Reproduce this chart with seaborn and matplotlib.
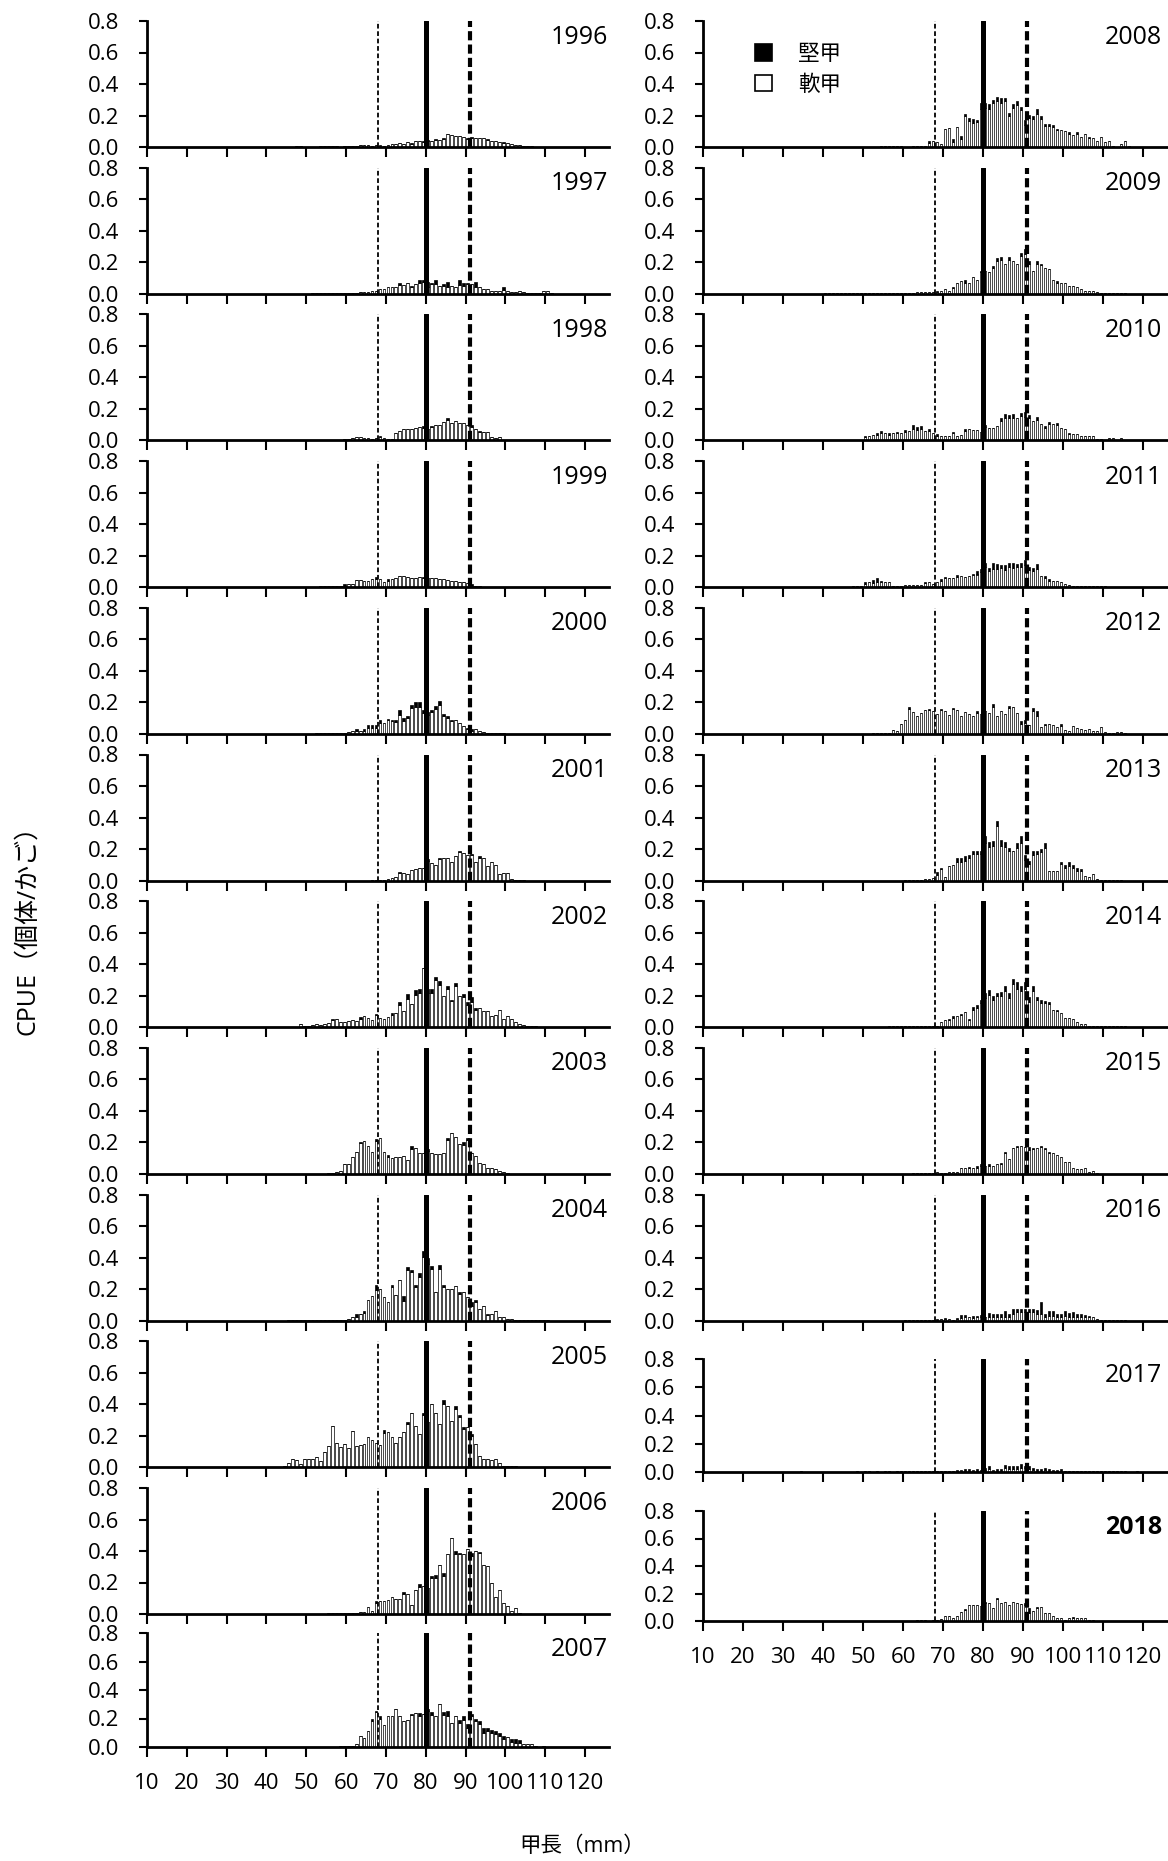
import numpy as np
import pandas as pd
import matplotlib
matplotlib.use("Agg")
import matplotlib.pyplot as plt
import seaborn as sns
from matplotlib.patches import Patch

sns.set_theme(style="ticks", rc={"axes.edgecolor": "black", "xtick.color": "black",
                                 "ytick.color": "black", "text.color": "black"})
plt.rcParams['font.family'] = ['Open Sans', 'Noto Sans CJK JP', 'DejaVu Sans']

# ---------------- data (CPUE per 1-mm carapace-length class) ----------------
# total bar height (soft + hard) starting at start_YYYY mm; hard-shell part as {mm: value}
start_1996 = 45
total_1996 = [.003,.003,.005,.005,.003,.002,.002,.003,.004,.005,
              .005,.005,.004,.003,.005,.006,.008,.008,.010,.010,
              .010,.008,.012,.010,.008,.015,.020,.022,.025,.020,
              .030,.028,.040,.035,.040,.045,.040,.050,.045,.055,
              .080,.075,.070,.070,.065,.060,.065,.060,.058,.055,
              .050,.040,.035,.030,.030,.025,.020,.015,.010,.008,
              .008,.005]
hard_1996 = {68:.005,72:.005,76:.008,79:.01,80:.01,82:.008,84:.005,90:.008,91:.01,95:.005,99:.005}

start_1997 = 51
total_1997 = [.003,.003,.003,.003,.004,.004,.004,.005,.005,.005,
              .006,.006,.008,.010,.012,.017,.017,.030,.030,.045,
              .040,.045,.065,.055,.065,.050,.060,.090,.085,.075,
              .070,.090,.050,.060,.075,.050,.045,.085,.070,.070,
              .060,.075,.040,.030,.030,.020,.015,.020,.045,.020,
              .010,.010,.015,.010,.005,.005,.003,.003,.020,.015,
              .003]
hard_1997 = {73:.01,76:.01,78:.02,79:.01,80:.03,81:.01,82:.03,84:.01,85:.03,88:.03,89:.02,90:.01,92:.03,99:.02}

start_1998 = 50
total_1998 = [.003,.003,.003,.005,.005,.004,.005,.005,.005,.008,
              .010,.015,.020,.020,.015,.015,.010,.015,.030,.015,
              .010,.010,.050,.060,.070,.070,.075,.080,.085,.090,
              .070,.090,.095,.100,.115,.140,.110,.120,.110,.110,
              .100,.095,.070,.060,.055,.055,.020,.015,.020,.005]
hard_1998 = {68:.01,72:.005,79:.01,81:.008,85:.01,91:.01,93:.005}

start_1999 = 50
total_1999 = [.003,.003,.003,.004,.005,.005,.008,.010,.010,.020,
              .020,.020,.045,.045,.040,.040,.050,.065,.050,.035,
              .050,.050,.060,.070,.070,.065,.060,.060,.065,.065,
              .060,.060,.055,.050,.050,.045,.040,.040,.035,.030,
              .025,.020,.010,.005]
hard_1999 = {59:.01,67:.015,70:.01,79:.01,91:.01}

start_2000 = 52
total_2000 = [.003,.003,.004,.004,.005,.005,.005,.005,.010,.015,
              .030,.020,.030,.055,.055,.055,.090,.070,.095,.090,
              .090,.150,.100,.110,.185,.200,.200,.150,.140,.150,
              .175,.210,.125,.110,.090,.085,.070,.050,.040,.030,
              .030,.015,.010,.005,.004,.003,.003,.002]
hard_2000 = {62:.01,64:.01,65:.015,66:.02,67:.02,68:.02,70:.01,71:.01,72:.015,73:.03,74:.02,75:.01,
             76:.02,77:.03,78:.03,79:.02,80:.02,81:.01,82:.02,83:.03,84:.015,85:.01,86:.01,90:.01,91:.01}

start_2001 = 66
total_2001 = [.003,.005,.005,.003,.010,.015,.020,.055,.050,.040,
              .065,.070,.080,.080,.135,.110,.100,.140,.140,.140,
              .120,.155,.190,.175,.160,.170,.120,.155,.140,.095,
              .120,.100,.040,.045,.050,.010,.005,.003,.002]
hard_2001 = {73:.005,80:.01,83:.005,88:.01,91:.01,93:.01}

start_2002 = 48
total_2002 = [.020,.005,.008,.015,.020,.015,.020,.025,.055,.055,
              .035,.030,.040,.045,.040,.065,.070,.060,.045,.085,
              .060,.055,.065,.090,.090,.160,.100,.210,.150,.235,
              .240,.375,.245,.240,.320,.295,.200,.260,.175,.280,
              .200,.210,.160,.190,.120,.120,.100,.100,.070,.080,
              .110,.050,.070,.050,.035,.020,.015,.010,.008,.005,
              .003,.002,.002,.003]
hard_2002 = {56:.01,63:.01,67:.01,71:.01,73:.02,75:.03,77:.03,78:.02,80:.03,81:.02,82:.02,83:.03,
             85:.02,86:.01,87:.02,89:.02,90:.02,91:.03,92:.01}

start_2003 = 55
total_2003 = [.003,.005,.010,.020,.060,.065,.105,.140,.205,.210,
              .175,.140,.220,.230,.140,.120,.100,.105,.110,.115,
              .090,.175,.165,.130,.130,.155,.130,.125,.125,.130,
              .225,.260,.235,.190,.200,.225,.130,.115,.070,.060,
              .035,.035,.030,.020,.010,.005]
hard_2003 = {63:.01,67:.01,70:.01,76:.02,80:.01,85:.01,89:.015,90:.01}

start_2004 = 45
total_2004 = [.002,.002,.002,.003,.003,.003,.003,.003,.004,.004,
              .004,.005,.005,.005,.005,.010,.020,.045,.045,.060,
              .130,.155,.225,.200,.150,.120,.225,.165,.255,.155,
              .340,.320,.225,.300,.445,.400,.345,.180,.350,.225,
              .200,.200,.220,.180,.180,.150,.120,.130,.075,.095,
              .045,.045,.060,.020,.020,.010,.008,.005,.003,.002,
              .002,.002,.002,.002,.002,.002]
hard_2004 = {62:.02,64:.01,67:.03,71:.01,74:.03,75:.02,76:.01,77:.01,78:.02,79:.04,80:.04,81:.02,
             83:.02,84:.01,88:.01,91:.03,92:.01,95:.01}

start_2005 = 41
total_2005 = [.003,.005,.003,.010,.030,.055,.045,.020,.050,.050,
              .055,.065,.040,.100,.135,.260,.155,.130,.145,.120,
              .230,.135,.140,.150,.190,.175,.155,.140,.235,.225,
              .190,.155,.190,.225,.285,.345,.260,.210,.345,.285,
              .400,.345,.275,.425,.390,.295,.390,.330,.255,.255,
              .210,.145,.070,.050,.050,.045,.055,.030,.010,.010,
              .010,.008,.003]
hard_2005 = {69:.02,75:.01,79:.01,84:.02,87:.02,88:.01,89:.01,91:.01}

start_2006 = 53
total_2006 = [.003,.003,.005,.005,.008,.005,.008,.005,.008,.008,
              .010,.015,.045,.020,.080,.080,.080,.090,.105,.095,
              .095,.140,.130,.060,.155,.190,.180,.165,.240,.250,
              .310,.260,.380,.480,.400,.390,.380,.415,.390,.400,
              .395,.310,.305,.200,.105,.155,.070,.050,.020,.035,
              .005,.003]
hard_2006 = {67:.01,74:.01,78:.02,81:.01,82:.02,84:.02,87:.02,88:.01,91:.02,93:.01}

start_2007 = 58
total_2007 = [.010,.005,.010,.010,.020,.075,.065,.115,.195,.255,
              .220,.155,.220,.220,.265,.215,.180,.190,.235,.240,
              .240,.230,.270,.245,.220,.305,.245,.250,.170,.220,
              .190,.220,.160,.235,.200,.180,.130,.130,.120,.110,
              .100,.075,.070,.055,.055,.050,.020,.020,.020,.005,
              .003,.008]
hard_2007 = {66:.01,67:.01,68:.02,76:.01,78:.02,80:.02,81:.02,84:.02,85:.03,88:.02,89:.03,90:.03,
             91:.02,92:.02,93:.02,94:.03,95:.02,96:.02,97:.02,98:.02,99:.02,101:.02,102:.03,103:.02}

start_2008 = 54
total_2008 = [.005,.005,.005,.005,.005,.005,.003,.003,.005,.005,
              .005,.005,.035,.035,.030,.020,.115,.120,.050,.125,
              .070,.210,.185,.175,.170,.280,.280,.270,.300,.320,
              .310,.310,.215,.270,.295,.255,.170,.205,.200,.240,
              .200,.145,.145,.140,.115,.110,.100,.095,.075,.095,
              .065,.085,.065,.060,.040,.065,.030,.040,.005,.003,
              .020,.035,.005]
hard_2008 = {66:.01,72:.02,74:.02,75:.01,76:.02,77:.02,78:.01,79:.04,80:.03,81:.03,82:.02,83:.03,
             84:.03,85:.02,86:.02,87:.02,88:.03,89:.02,90:.03,91:.02,92:.02,93:.03,94:.02,95:.01,
             96:.01,97:.01,98:.01,101:.01,103:.01,106:.01}

start_2009 = 40
total_2009 = [.002,.002,.003,.003,.002,.003,.003,.002,.003,.003,
              .003,.003,.003,.003,.004,.004,.004,.005,.005,.005,
              .005,.006,.006,.008,.008,.010,.010,.010,.015,.020,
              .030,.020,.045,.065,.080,.090,.070,.105,.090,.145,
              .145,.140,.175,.225,.235,.190,.235,.210,.190,.260,
              .285,.210,.145,.210,.190,.165,.160,.090,.080,.070,
              .065,.050,.050,.040,.030,.020,.020,.015,.010,.005,
              .005,.005,.005,.005,.005,.005]
hard_2009 = {68:.005,72:.01,75:.02,79:.01,82:.01,83:.015,84:.02,86:.02,89:.02,90:.03,91:.02,93:.02,94:.01,98:.01}

start_2010 = 42
total_2010 = [.005,.005,.005,.005,.005,.005,.005,.003,.030,.030,
              .035,.045,.060,.045,.045,.045,.055,.050,.065,.060,
              .095,.085,.090,.060,.070,.045,.040,.025,.030,.030,
              .055,.030,.035,.070,.070,.065,.065,.055,.095,.080,
              .080,.090,.145,.165,.160,.170,.145,.175,.180,.160,
              .125,.150,.105,.090,.115,.105,.110,.080,.070,.050,
              .040,.040,.030,.030,.030,.030,.010,.010,.005,.015,
              .015,.005,.015]
hard_2010 = {50:.01,53:.01,54:.015,56:.01,58:.01,60:.01,62:.02,63:.02,64:.015,66:.01,68:.01,72:.01,
             75:.01,80:.01,84:.02,85:.02,86:.02,87:.03,89:.02,90:.03,91:.02,93:.02,95:.01,96:.01,
             98:.01,101:.01}

start_2011 = 45
total_2011 = [.003,.003,.005,.005,.010,.030,.030,.045,.060,.040,
              .035,.030,.010,.010,.010,.012,.012,.015,.015,.015,
              .035,.030,.020,.030,.050,.065,.060,.055,.075,.070,
              .065,.070,.085,.100,.115,.155,.120,.155,.145,.140,
              .140,.150,.150,.145,.155,.170,.130,.120,.145,.070,
              .070,.050,.040,.040,.030,.020,.015,.010,.010,.005,
              .005,.005,.005,.005,.005,.005]
hard_2011 = {50:.01,52:.02,53:.03,54:.01,65:.01,69:.01,70:.01,73:.01,77:.01,78:.02,79:.02,80:.03,
             81:.02,82:.04,83:.03,84:.02,85:.03,86:.02,87:.03,88:.02,89:.03,90:.03,91:.02,92:.02,
             93:.03,95:.01,96:.01}

start_2012 = 52
total_2012 = [.003,.003,.003,.003,.005,.025,.020,.065,.090,.170,
              .140,.115,.135,.150,.160,.145,.125,.160,.145,.120,
              .165,.150,.110,.140,.125,.115,.145,.125,.145,.135,
              .190,.115,.145,.125,.175,.170,.135,.080,.090,.055,
              .165,.145,.045,.065,.065,.055,.045,.060,.025,.020,
              .050,.040,.030,.025,.030,.020,.020,.045,.010,.005,
              .003,.010,.010,.008]
hard_2012 = {61:.01,66:.01,69:.01,72:.01,78:.01,82:.02,86:.01,89:.02,90:.02,92:.02,93:.03,95:.01,99:.01}

start_2013 = 60
total_2013 = [.003,.003,.003,.003,.005,.010,.010,.015,.055,.080,
              .020,.090,.100,.140,.140,.155,.160,.190,.190,.190,
              .280,.245,.250,.375,.260,.245,.205,.185,.235,.280,
              .160,.125,.185,.190,.200,.235,.060,.060,.060,.115,
              .100,.115,.100,.080,.070,.030,.020,.040,.010,.005,
              .003,.003,.003,.003,.003]
hard_2013 = {68:.02,69:.01,73:.02,74:.02,75:.03,76:.02,77:.02,78:.02,79:.02,80:.04,81:.03,82:.03,
             83:.03,84:.04,85:.03,86:.02,88:.03,89:.04,90:.03,91:.02,92:.02,93:.02,94:.02,95:.03,
             99:.01,100:.02,101:.02,102:.02,103:.02,104:.01}

start_2014 = 43
total_2014 = [.003,.003,.003,.003,.003,.003,.003,.003,.004,.004,
              .004,.004,.004,.005,.005,.005,.005,.005,.006,.006,
              .006,.006,.008,.008,.010,.008,.030,.045,.055,.070,
              .070,.085,.095,.055,.130,.140,.175,.215,.235,.200,
              .215,.225,.260,.215,.305,.285,.260,.285,.190,.260,
              .190,.175,.165,.160,.110,.110,.090,.060,.060,.050,
              .030,.020,.020,.010,.005,.005,.005,.005,.005,.005,
              .005,.005,.005]
hard_2014 = {71:.01,72:.01,74:.01,76:.01,77:.02,78:.02,79:.02,80:.03,81:.03,82:.03,83:.02,84:.03,
             85:.03,86:.03,87:.03,88:.04,89:.03,90:.04,91:.03,92:.03,93:.02,94:.02,95:.01,96:.01,98:.01}

start_2015 = 58
total_2015 = [.002,.002,.002,.002,.003,.003,.003,.003,.003,.005,
              .010,.005,.005,.010,.015,.015,.035,.035,.045,.040,
              .050,.060,.050,.060,.050,.060,.070,.140,.095,.165,
              .180,.180,.170,.170,.165,.165,.180,.165,.140,.130,
              .120,.110,.075,.075,.035,.030,.030,.035,.015,.020,
              .005]
hard_2015 = {76:.01,78:.01,79:.01,81:.01,84:.01,85:.01,88:.01,91:.02,92:.01,94:.01,95:.01,96:.01}

start_2016 = 60
total_2016 = [.005,.005,.005,.005,.005,.005,.005,.005,.010,.012,
              .015,.010,.005,.015,.035,.035,.020,.030,.030,.035,
              .020,.050,.045,.045,.045,.060,.040,.075,.075,.075,
              .075,.075,.075,.070,.120,.045,.060,.060,.040,.040,
              .060,.050,.055,.040,.040,.035,.030,.025,.010,.005,
              .003,.003,.003,.003,.003,.003]
hard_2016 = {68:.005,70:.008,73:.008,74:.02,75:.015,77:.015,78:.01,79:.015,81:.025,82:.02,83:.02,
             84:.02,85:.035,86:.02,87:.03,88:.02,89:.02,90:.02,91:.02,92:.02,93:.03,94:.08,95:.02,
             96:.03,97:.03,98:.02,99:.02,100:.03,101:.025,102:.03,103:.02,104:.02,105:.015,106:.01}

start_2017 = 34
total_2017 = [.005,0,0,0,0,0,0,0,0,0,
              0,0,0,0,.004,0,.004,.004,0,.004,
              0,.004,.004,0,.005,.004,.005,.005,.005,.008,
              .005,.005,.005,.005,.010,.010,.010,.010,.010,.015,
              .015,.020,.020,.015,.020,.015,.025,.040,.015,.020,
              .020,.050,.040,.040,.040,.055,.045,.040,.030,.020,
              .020,.030,.020,.015,.015,.020,.010,.010,.010,.010,
              .010,.010,.005,.005,.005,.005,.005,.004,.004,.004,
              .004,.004,.003,.003,.004]
hard_2017 = {73:.008,74:.008,75:.01,76:.01,77:.008,78:.01,79:.008,80:.012,81:.02,82:.008,83:.01,
             84:.01,85:.025,86:.02,87:.02,88:.02,89:.03,90:.02,91:.02,92:.015,93:.01,94:.01,95:.015,
             96:.01,97:.008,98:.008,99:.01}

start_2018 = 63
total_2018 = [.005,.005,.005,.003,.005,.010,.015,.040,.035,.025,
              .035,.065,.085,.115,.115,.115,.110,.140,.130,.095,
              .165,.130,.135,.120,.135,.130,.125,.130,.095,.075,
              .105,.100,.060,.060,.035,.025,.025,.010,.020,.030,
              .020,.020,.020,.008,.005]
hard_2018 = {70:.005,75:.005,80:.01,83:.005,90:.01,91:.04,93:.01,95:.005,102:.005}

years_left = [1996, 1997, 1998, 1999, 2000, 2001, 2002, 2003, 2004, 2005, 2006, 2007]
years_right = [2008, 2009, 2010, 2011, 2012, 2013, 2014, 2015, 2016, 2017, 2018]
series = {
    1996: (start_1996, total_1996, hard_1996), 1997: (start_1997, total_1997, hard_1997),
    1998: (start_1998, total_1998, hard_1998), 1999: (start_1999, total_1999, hard_1999),
    2000: (start_2000, total_2000, hard_2000), 2001: (start_2001, total_2001, hard_2001),
    2002: (start_2002, total_2002, hard_2002), 2003: (start_2003, total_2003, hard_2003),
    2004: (start_2004, total_2004, hard_2004), 2005: (start_2005, total_2005, hard_2005),
    2006: (start_2006, total_2006, hard_2006), 2007: (start_2007, total_2007, hard_2007),
    2008: (start_2008, total_2008, hard_2008), 2009: (start_2009, total_2009, hard_2009),
    2010: (start_2010, total_2010, hard_2010), 2011: (start_2011, total_2011, hard_2011),
    2012: (start_2012, total_2012, hard_2012), 2013: (start_2013, total_2013, hard_2013),
    2014: (start_2014, total_2014, hard_2014), 2015: (start_2015, total_2015, hard_2015),
    2016: (start_2016, total_2016, hard_2016), 2017: (start_2017, total_2017, hard_2017),
    2018: (start_2018, total_2018, hard_2018),
}
ref_lines = [68, 80, 91]
xticks = [10, 20, 30, 40, 50, 60, 70, 80, 90, 100, 110, 120]
yticks = [0.0, 0.2, 0.4, 0.6, 0.8]
ytick_labels = ['0.0', '0.2', '0.4', '0.6', '0.8']
HARD, SOFT = '堅甲', '軟甲'


def year_frame(year):
    start, total, hard = series[year]
    rows = []
    for i, t in enumerate(total):
        mm = start + i
        h = min(hard.get(mm, 0.0), t)
        rows.append({'mm': mm + 0.5, 'cpue': t - h, 'shell': SOFT})
        rows.append({'mm': mm + 0.5, 'cpue': h, 'shell': HARD})
    return pd.DataFrame(rows)


W, H = 1168, 1861
fig = plt.figure(figsize=(W / 100, H / 100), dpi=100)
fig.patch.set_facecolor('white')


def add_ax(x0, width, top, bottom):
    return fig.add_axes([x0 / W, 1 - bottom / H, width / W, (bottom - top) / H])


# panel pixel boxes (top, bottom)
left_boxes = [(21 + i * 146.7, 147 + i * 146.7) for i in range(11)] + [(1633, 1747)]
right_boxes = [(21 + i * 146.7, 147 + i * 146.7) for i in range(9)] + [(1359, 1472), (1511, 1621)]


def draw_panel(ax, year, bottom_panel, label_dx, bold=False):
    df = year_frame(year)
    sns.histplot(data=df, x='mm', weights='cpue', hue='shell', hue_order=[HARD, SOFT],
                 multiple='stack', binwidth=1, binrange=(30, 120), shrink=0.72,
                 palette={HARD: 'black', SOFT: 'white'}, edgecolor='black',
                 linewidth=0.5, alpha=1, legend=False, ax=ax)
    ax.axvline(ref_lines[0], color='black', lw=1.3, ls=(0, (2.6, 1.5)), zorder=3)
    ax.axvline(ref_lines[1], color='black', lw=3.6, zorder=3)
    ax.axvline(ref_lines[2], color='black', lw=3.0, ls=(0, (2.2, 1.0)), zorder=3)
    ax.set_xlim(10, 126)
    ax.set_ylim(0, 0.8)
    ax.set_yticks(yticks)
    ax.set_yticklabels(ytick_labels)
    ax.set_xticks(xticks)
    if bottom_panel:
        ax.set_xticklabels([str(v) for v in xticks])
    else:
        ax.set_xticklabels([])
    ax.set_xlabel('')
    ax.set_ylabel('')
    ax.set_facecolor('white')
    for s in ['top', 'right']:
        ax.spines[s].set_visible(False)
    for s in ['left', 'bottom']:
        ax.spines[s].set_linewidth(2.0)
        ax.spines[s].set_color('black')
    ax.tick_params(axis='y', direction='out', length=6, width=1.5, pad=14, labelsize=16)
    ax.tick_params(axis='x', direction='out', length=7, width=1.5, pad=12, labelsize=16)
    ax.annotate(str(year), xy=(1, 1), xycoords='axes fraction',
                xytext=(-label_dx * 0.72, -16 * 0.72), textcoords='offset points',
                ha='right', va='center', fontsize=18,
                fontweight='bold' if bold else 'normal')
    return ax


for i, yr in enumerate(years_left):
    top, bot = left_boxes[i]
    ax = add_ax(147, 462, top, bot)
    draw_panel(ax, yr, yr == years_left[-1], 1)

for i, yr in enumerate(years_right):
    top, bot = right_boxes[i]
    ax = add_ax(703, 464, top, bot)
    draw_panel(ax, yr, yr == years_right[-1], 5, bold=(yr == 2018))
    if yr == 2008:
        handles = [Patch(facecolor='black', edgecolor='black', lw=1.2),
                   Patch(facecolor='white', edgecolor='black', lw=1.2)]
        ax.legend(handles, [HARD, SOFT], loc='upper left',
                  bbox_to_anchor=(755 / W, 1 - 44 / H), bbox_transform=fig.transFigure,
                  frameon=False, fontsize=15.5, handlelength=0.8, handleheight=0.8,
                  handletextpad=1.2, labelspacing=0.45, borderpad=0, borderaxespad=0)

fig.text(28 / W, 1 - 924 / H, 'CPUE（個体/かご）', rotation=90, ha='center', va='center',
         fontsize=18)
fig.text(582 / W, 1 - 1846 / H, '甲長（mm）', ha='center', va='center', fontsize=15.5)

fig.savefig('out.png', dpi=100, facecolor='white')
